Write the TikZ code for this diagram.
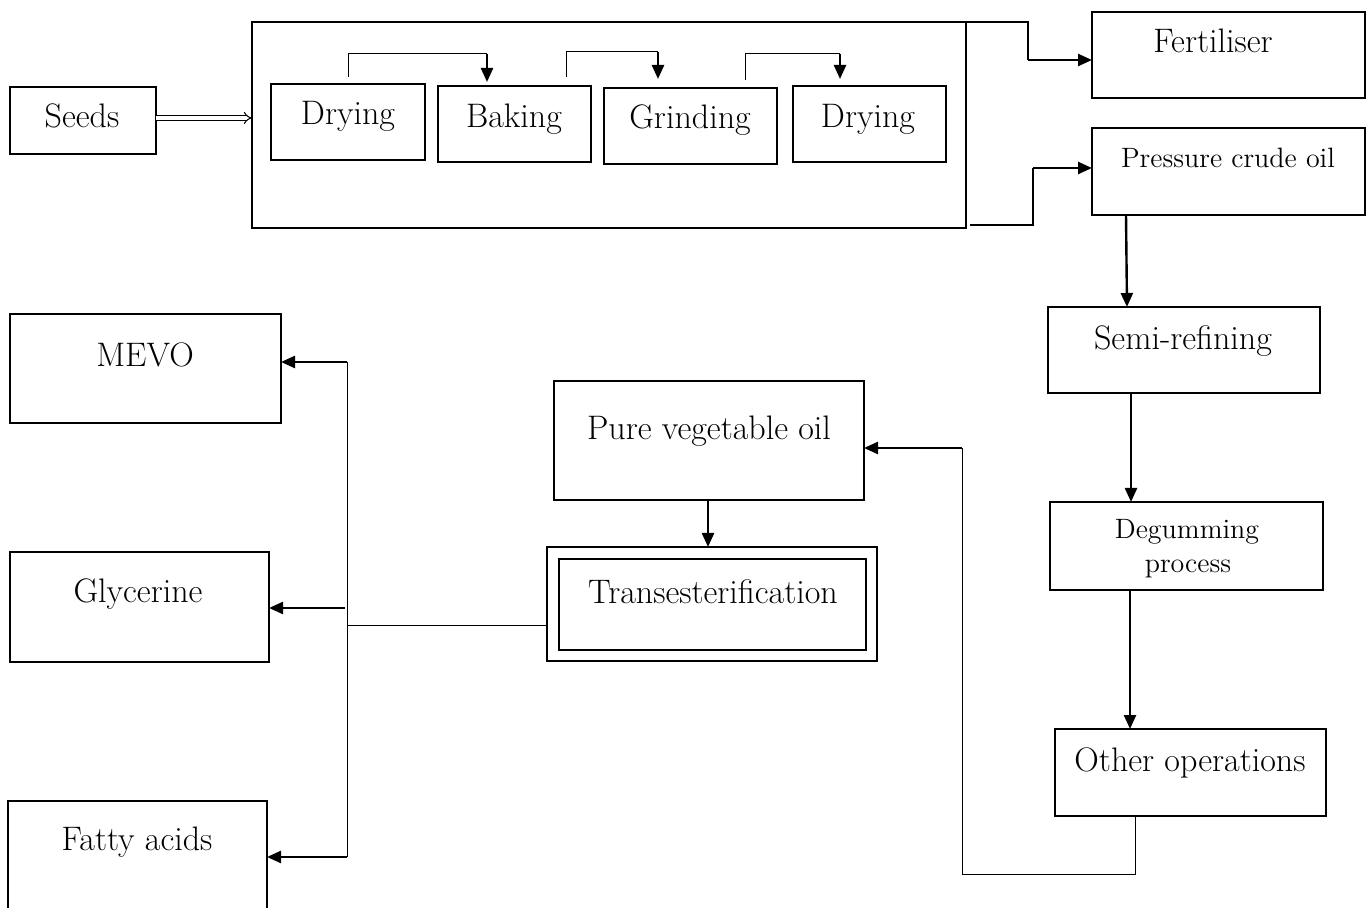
\documentclass[tikz,border=0pt]{standalone}
\usetikzlibrary{arrows.meta,fit,calc}
\begin{document}
\begin{tikzpicture}[x=0.5pt,y=-0.5pt,
  box/.style={draw=black,line width=1.3pt,inner sep=0pt,outer sep=0pt,fill=none},
  big/.style={font=\fontsize{17}{20}\selectfont,anchor=base,inner sep=0pt},
  small/.style={font=\fontsize{14}{16}\selectfont,anchor=base,inner sep=0pt},
  thinl/.style={draw=black,line width=0.5pt},
  boldl/.style={draw=black,line width=1.2pt},
  arr/.style={draw=black,line width=1.2pt,-{Triangle[length=7pt,width=6pt]}},
  dbl/.style={draw=black,double,double distance=1.6pt,line width=0.5pt,-{Implies[length=3.5pt]}}]
\useasboundingbox (0,0) rectangle (1371,908);
% boxes
\node[box,fit={(10,87) (156,154)}] (seeds) {};
\node[box,fit={(252,22) (966,228)}] (bigbox) {};
\node[box,fit={(271,84) (425,160)}] (dry1) {};
\node[box,fit={(438,86) (591,162)}] (bake) {};
\node[box,fit={(604,88) (777,164)}] (grind) {};
\node[box,fit={(793,86) (946,162)}] (dry2) {};
\node[box,fit={(1092,12) (1365,98)}] (fert) {};
\node[box,fit={(1092,128) (1365,215)}] (pres) {};
\node[box,fit={(1048,307) (1320,393)}] (semi) {};
\node[box,fit={(1050,502) (1323,590)}] (degum) {};
\node[box,fit={(1055,729) (1326,816)}] (other) {};
\node[box,fit={(554,381) (864,500)}] (pure) {};
\node[box,fit={(547,547) (877,661)}] (transout) {};
\node[box,fit={(559,559) (866,650)}] (transin) {};
\node[box,fit={(10,314) (281,423)}] (mevo) {};
\node[box,fit={(10,552) (269,662)}] (glyc) {};
\node[box,fit={(8,801) (267,930)}] (fatty) {};
% texts
\node[big] (tseeds) at (82,128) {Seeds};
\node[big] (tdry1) at (348,125) {Drying};
\node[big] (tbake) at (514,128) {Baking};
\node[big] (tgrind) at (690,129) {Grinding};
\node[big] (tdry2) at (868,128) {Drying};
\node[big] (tfert) at (1213,53) {Fertiliser};
\node[small] (tpres) at (1228,168) {Pressure crude oil};
\node[big] (tsemi) at (1183,350) {Semi-refining};
\node[small] (tdeg1) at (1187,539) {Degumming};
\node[small] (tdeg2) at (1188,573) {process};
\node[big] (tother) at (1190,771) {Other operations};
\node[big] (tpure) at (709,440) {Pure vegetable oil};
\node[big] (ttrans) at (713,604) {Transesterification};
\node[big] (tmevo) at (145,367) {MEVO};
\node[big] (tglyc) at (138,603) {Glycerine};
\node[big] (tfatty) at (137,850) {Fatty acids};
% seeds to big box
\draw[dbl] (seeds.east |- 0,118) -- (bigbox.west |- 0,118);
% internal connectors
\coordinate (a1) at (348,77); \coordinate (a2) at (487,54);
\draw[thinl] (a1) |- (a2);
\draw[arr] (a2) -- (487,82);
\coordinate (b1) at (566,77); \coordinate (b2) at (658,52);
\draw[thinl] (b1) |- (b2);
\draw[arr] (b2) -- (658,79);
\coordinate (c1) at (745,80); \coordinate (c2) at (840,54);
\draw[thinl] (c1) |- (c2);
\draw[arr] (c2) -- (840,79);
% outputs of big box
\coordinate (f1) at (1028,60);
\draw[boldl] (bigbox.north east) -| (f1);
\draw[arr] (f1) -- (fert.west |- f1);
\coordinate (p0) at (970,225);
\coordinate (p1) at (1033,168);
\draw[boldl] (p0) -| (p1);
\draw[arr] (p1) -- (pres.west |- p1);
% right column
\draw[arr] (pres.south -| 1126,0) -- (semi.north -| 1127,0);
\draw[arr] (semi.south -| 1131,0) -- (degum.north -| 1131,0);
\draw[arr] (degum.south -| 1130,0) -- (other.north -| 1130,0);
% feedback
\coordinate (r1) at (1135,874);
\coordinate (r2) at (962,448);
\draw[thinl] (other.south -| r1) -- (r1) -| (r2);
\draw[arr] (r2) -- (pure.east |- r2);
% pure to trans
\draw[arr] (pure.south -| 708,0) -- (transout.north -| 708,0);
% tree
\coordinate (t0) at (347,626);
\coordinate (tm) at (347,362);
\coordinate (tg) at (345,608);
\coordinate (tf) at (347,857);
\draw[thinl] (transout.west |- t0) -- (t0);
\draw[thinl] (tm) -- (tf);
\draw[arr] (tm) -- (mevo.east |- tm);
\draw[arr] (tg) -- (glyc.east |- tg);
\draw[arr] (tf) -- (fatty.east |- tf);
\end{tikzpicture}
\end{document}
